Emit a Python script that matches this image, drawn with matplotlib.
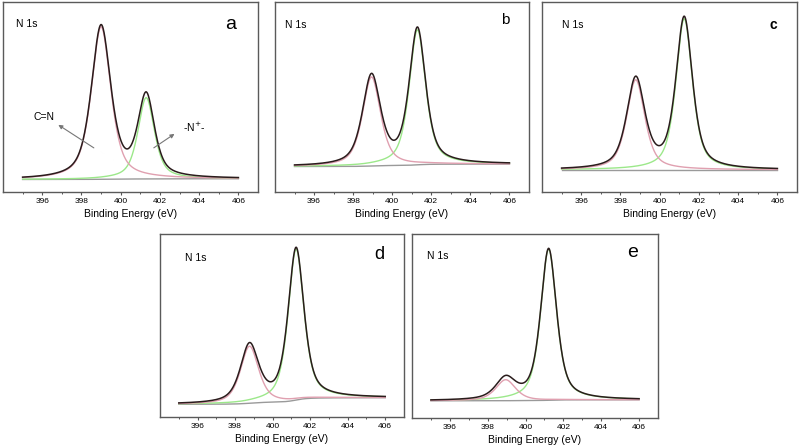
import numpy as np
import matplotlib.pyplot as plt

plt.rcParams['font.family'] = ['Liberation Sans', 'DejaVu Sans']

# fitted N 1s components (panels a-e), intensity in a.u.
letters = ['a', 'b', 'c', 'd', 'e']
cn_center = [399.0, 398.94, 398.78, 398.77, 398.95]   # C=N component
cn_height = [152, 89, 90, 57, 21]
cn_fwhm = [1.18, 1.1, 1.1, 1.15, 1.25]
np_center = [401.3, 401.29, 401.25, 401.25, 401.22]   # -N+- component
np_height = [81, 135, 151, 151, 151]
np_fwhm = [1.0, 1.0, 1.0, 1.0, 1.0]
lor_frac = 0.62                                        # Lorentzian share of the GL line shape
bg_left = [12, 25, 21.7, 12.4, 16.7]                   # background level, low BE side
bg_right = [12.7, 27.4, 21.7, 19.0, 17.7]              # background level, high BE side
y_top = [189.5, 189.5, 189.5, 182.2, 183.0]

energy = np.linspace(395, 406, 700)


def gl(x, c, h, w):
    u = (x - c) / w
    return h * (lor_frac / (1 + 4 * u ** 2) + (1 - lor_frac) * np.exp(-4 * np.log(2) * u ** 2))


# axes boxes in pixels (left, top, right, bottom) on an 800x448 canvas
boxes = [(3, 1.5, 258, 191.5), (275, 2, 529, 191.5), (542, 2, 797, 191.5),
         (160, 234.5, 404, 416.7), (412, 234.5, 658, 417.5)]
letter_style = [dict(fontsize=14), dict(fontsize=11), dict(fontsize=10, fontweight='bold'),
                dict(fontsize=13), dict(fontsize=14)]
n1s_pos = [(0.094, 0.884), (0.083, 0.88), (0.12, 0.876), (0.148, 0.871), (0.106, 0.884)]
let_pos = [(0.894, 0.879), (0.906, 0.907), (0.906, 0.88), (0.898, 0.89), (0.898, 0.90)]

fig = plt.figure(figsize=(8, 4.48), dpi=100)
for i, lab in enumerate(letters):
    l, t, r, b = boxes[i]
    ax = fig.add_axes([l / 800, 1 - b / 448, (r - l) / 800, (b - t) / 448])

    pk1 = gl(energy, cn_center[i], cn_height[i], cn_fwhm[i])
    pk2 = gl(energy, np_center[i], np_height[i], np_fwhm[i])
    tot = pk1 + pk2
    # Shirley-like step background
    bg = bg_left[i] + (bg_right[i] - bg_left[i]) * np.cumsum(tot) / tot.sum()

    ax.plot(energy, bg, color='#9a9a9a', lw=1.0)
    ax.plot(energy, bg + pk2, color='#9ce88a', lw=1.0)
    ax.plot(energy, bg + pk1, color='#e0a0b0', lw=1.0)
    ax.plot(energy, bg + tot, color='#2a1c1c', lw=1.1)

    ax.set_xlim(394, 407)
    ax.set_ylim(0, y_top[i])
    ax.set_yticks([])
    ax.set_xticks(range(396, 407, 2))
    ax.set_xticks(range(395, 407, 2), minor=True)
    ax.tick_params(axis='x', which='major', direction='out', length=2.5, width=0.8,
                   color='#555555', labelsize=6, pad=2)
    ax.tick_params(axis='x', which='minor', direction='out', length=1.5, width=0.7,
                   color='#555555')
    for s in ax.spines.values():
        s.set_color('#5a5a5a')
        s.set_linewidth(1.0)
    ax.set_xlabel('Binding Energy (eV)', fontsize=7.5, labelpad=3)

    ax.text(*n1s_pos[i], 'N 1s', transform=ax.transAxes, fontsize=7.5,
            ha='center', va='center')
    ax.text(*let_pos[i], lab, transform=ax.transAxes, ha='center', va='center',
            **letter_style[i])

    if lab == 'a':
        arr = dict(arrowstyle='-|>', color='#777777', lw=0.8, mutation_scale=6)
        ax.annotate('', xy=(396.7, 68), xytext=(398.75, 42), arrowprops=arr)
        ax.text(396.09, 74, 'C=N', fontsize=7.5, ha='center', va='center')
        ax.annotate('', xy=(402.86, 59), xytext=(401.57, 42), arrowprops=arr)
        ax.text(403.73, 64, '-N$^{+}$-', fontsize=7.5, ha='center', va='center')

fig.savefig('out.png', dpi=100)
